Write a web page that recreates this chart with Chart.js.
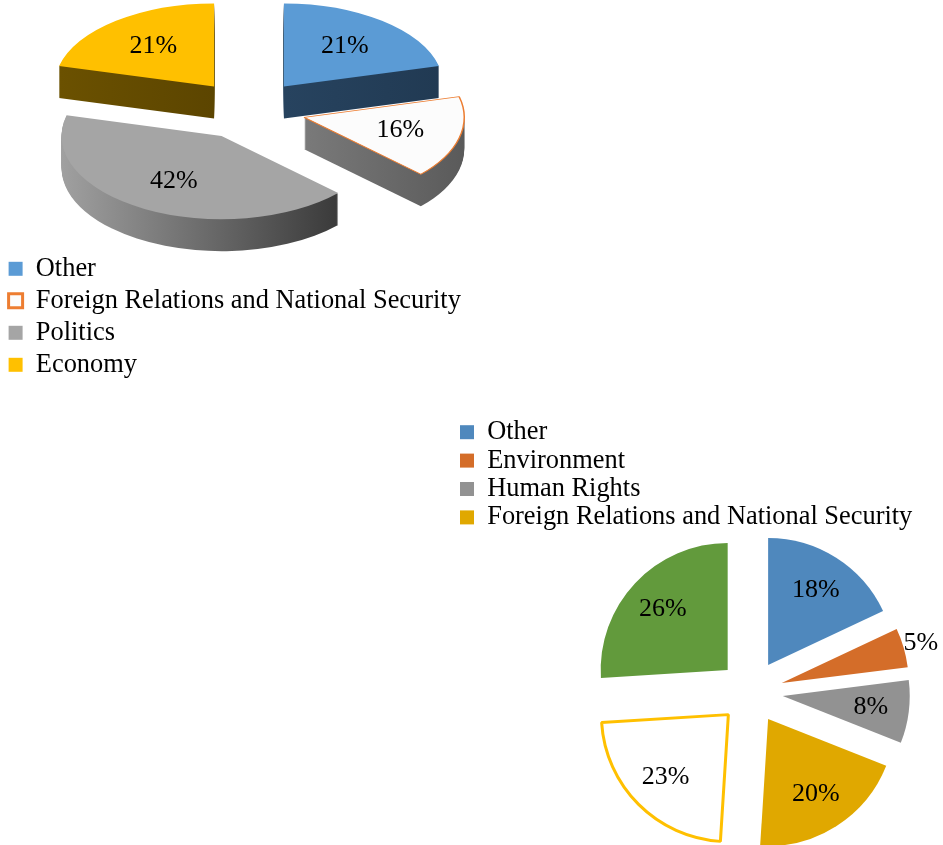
<!DOCTYPE html>
<html>
<head>
<meta charset="utf-8">
<title>Topics</title>
<script src="https://cdn.jsdelivr.net/npm/chart.js@4.4.1/dist/chart.umd.min.js"></script>
<style>
  html, body { margin: 0; padding: 0; background: #fff; overflow: hidden; }
  #wrap { position: relative; width: 943px; height: 845px; }
  #wrap canvas { position: absolute; left: 0; top: 0; }
</style>
</head>
<body>
<div id="wrap">
  <canvas id="chart-topics-3d" width="943" height="845"></canvas>
  <canvas id="chart-topics-flat" width="943" height="845"></canvas>
</div>
<script>
// ── Data ──
const topLabels = ['Other', 'Foreign Relations and National Security', 'Politics', 'Economy'];
const topShares = [21, 16, 42, 21];

const flatLabels = ['Other', 'Environment', 'Human Rights', 'Foreign Relations and National Security', 'Economy', 'Politics'];
const flatShares = [18, 5, 8, 20, 23, 26];

// ── Styles ──
const SERIF = "'Liberation Serif', 'Times New Roman', serif";
const LEGEND_SIZE = 26.4;
const VALUE_SIZE = 26;

const topFill   = ['#5b9bd5', '#fcfcfc', '#a5a5a5', '#ffc000'];
const topBorder = ['#5b9bd5', '#ed7d31', '#a5a5a5', '#ffc000'];
const topBorderW = [0, 1.5, 0, 0];
// side walls: [left colour, right colour]
const topSide = [['#27435f', '#213a53'], ['#7a7a7a', '#5a5a5a'], ['#a0a0a0', '#3a3a3a'], ['#6b5100', '#5c4500']];

const flatFill   = ['#4f88bd', '#d46d29', '#929292', '#e0a800', '#ffffff', '#629a3c'];
const flatBorder = ['#4f88bd', '#d46d29', '#929292', '#e0a800', '#ffc000', '#629a3c'];
const flatBorderW = [0, 0, 0, 0, 3, 0];

// ── Plugins ──

// slice path, optionally pushed down by dy (in drawing units)
function wedge(ctx, arc, dy) {
  ctx.beginPath();
  ctx.moveTo(arc.x, arc.y + dy);
  ctx.arc(arc.x, arc.y + dy, arc.outerRadius, arc.startAngle, arc.endAngle);
  ctx.closePath();
}

function drawSides(ctx, arcs, opts, k) {
  const order = arcs.map((a, i) => i).sort((a, b) => arcs[a].y - arcs[b].y);
  order.forEach(i => {
    const arc = arcs[i];
    const cols = opts.sides[i];
    // horizontal extent of the slice for the wall shading
    let minX = arc.x, maxX = arc.x;
    for (let s = 0; s <= 32; s++) {
      const t = arc.startAngle + (arc.endAngle - arc.startAngle) * s / 32;
      const px = arc.x + Math.cos(t) * arc.outerRadius;
      minX = Math.min(minX, px); maxX = Math.max(maxX, px);
    }
    const grad = ctx.createLinearGradient(minX, 0, maxX, 0);
    grad.addColorStop(0, cols[0]);
    grad.addColorStop(1, cols[1]);
    ctx.fillStyle = grad;
    for (let d = opts.depth; d >= 1; d--) {
      wedge(ctx, arc, d / k);
      ctx.fill();
    }
  });
}

const explodedPie = {
  id: 'explodedPie',
  beforeDatasetsDraw(chart, args, opts) {
    const ctx = chart.ctx;
    const arcs = chart.getDatasetMeta(0).data;
    const k = opts.squash || 1;
    const cy = arcs.length ? arcs[0].y : 0;
    // push each slice out along its bisector
    arcs.forEach(arc => {
      const mid = (arc.startAngle + arc.endAngle) / 2;
      arc._home = [arc.x, arc.y];
      arc.x += Math.cos(mid) * opts.distance;
      arc.y += Math.sin(mid) * opts.distance;
    });
    ctx.save();
    ctx.translate(0, cy);
    ctx.scale(1, k);
    ctx.translate(0, -cy);
    if (opts.depth) drawSides(ctx, arcs, opts, k);
  },
  afterDatasetsDraw(chart, args, opts) {
    const ctx = chart.ctx;
    ctx.restore();
    const arcs = chart.getDatasetMeta(0).data;
    const values = chart.data.datasets[0].data;
    const k = opts.squash || 1;
    ctx.save();
    ctx.font = `${VALUE_SIZE}px ${SERIF}`;
    ctx.fillStyle = '#000';
    ctx.textAlign = 'center';
    ctx.textBaseline = 'middle';
    arcs.forEach((arc, i) => {
      const cy = arc._home[1];
      const mid = (arc.startAngle + arc.endAngle) / 2;
      const span = arc.endAngle - arc.startAngle;
      const f = span < opts.smallArc ? opts.outside : opts.inside;
      const px = arc.x + Math.cos(mid) * arc.outerRadius * f;
      const py = cy + (arc.y + Math.sin(mid) * arc.outerRadius * f - cy) * k;
      ctx.fillText(values[i] + '%', px, py);
    });
    ctx.restore();
    arcs.forEach(arc => { arc.x = arc._home[0]; arc.y = arc._home[1]; });
  }
};

// pin the legend box to a given corner
const legendAt = {
  id: 'legendAt',
  afterLayout(chart, args, opts) {
    const lg = chart.legend;
    if (!lg) return;
    lg.left = opts.x;
    lg.top = opts.y;
    lg.right = opts.x + 600;
    lg.bottom = opts.y + 200;
    lg.width = 600;
    lg.height = 200;
  }
};

const pieLabels = Chart.overrides.doughnut.plugins.legend.labels.generateLabels;

function legendOpts(padding, extraLabels) {
  return {
    position: 'chartArea',
    align: 'start',
    labels: Object.assign({
      color: '#000',
      font: { family: SERIF, size: LEGEND_SIZE },
      boxWidth: 14,
      boxHeight: 14,
      padding
    }, extraLabels)
  };
}

// ── Charts ──

// 1. Tilted pie with walls
new Chart(document.getElementById('chart-topics-3d'), {
  type: 'pie',
  data: {
    labels: topLabels,
    datasets: [{
      data: topShares,
      backgroundColor: topFill,
      borderColor: topBorder,
      borderWidth: topBorderW,
      radius: 160,
      clip: false
    }]
  },
  options: {
    responsive: false,
    animation: false,
    events: [],
    layout: { padding: { left: 0, top: 0, right: 445, bottom: 625 } },
    plugins: {
      tooltip: { enabled: false },
      legend: legendOpts(5.6, {
        generateLabels(chart) {
          return pieLabels(chart).map(it => Object.assign(it, { lineWidth: it.lineWidth ? 3 : 0 }));
        }
      }),
      legendAt: { x: 3, y: 250 },
      explodedPie: {
        distance: 57, squash: 0.52, depth: 32, sides: topSide,
        inside: 0.62, outside: 0.62, smallArc: 0
      }
    }
  },
  plugins: [explodedPie, legendAt]
});

// 2. Flat pie
new Chart(document.getElementById('chart-topics-flat'), {
  type: 'pie',
  data: {
    labels: flatLabels,
    datasets: [{
      data: flatShares,
      backgroundColor: flatFill,
      borderColor: flatBorder,
      borderWidth: flatBorderW,
      radius: 127,
      clip: false
    }]
  },
  options: {
    responsive: false,
    animation: false,
    events: [],
    layout: { padding: { left: 559, top: 539, right: 0, bottom: 0 } },
    plugins: {
      tooltip: { enabled: false },
      legend: legendOpts(2, {
        filter: item => item.index < 4
      }),
      legendAt: { x: 458, y: 417 },
      explodedPie: {
        distance: 32, squash: 1, depth: 0, sides: [],
        inside: 0.7, outside: 1.14, smallArc: 0.4
      }
    }
  },
  plugins: [explodedPie, legendAt]
});
</script>
</body>
</html>
